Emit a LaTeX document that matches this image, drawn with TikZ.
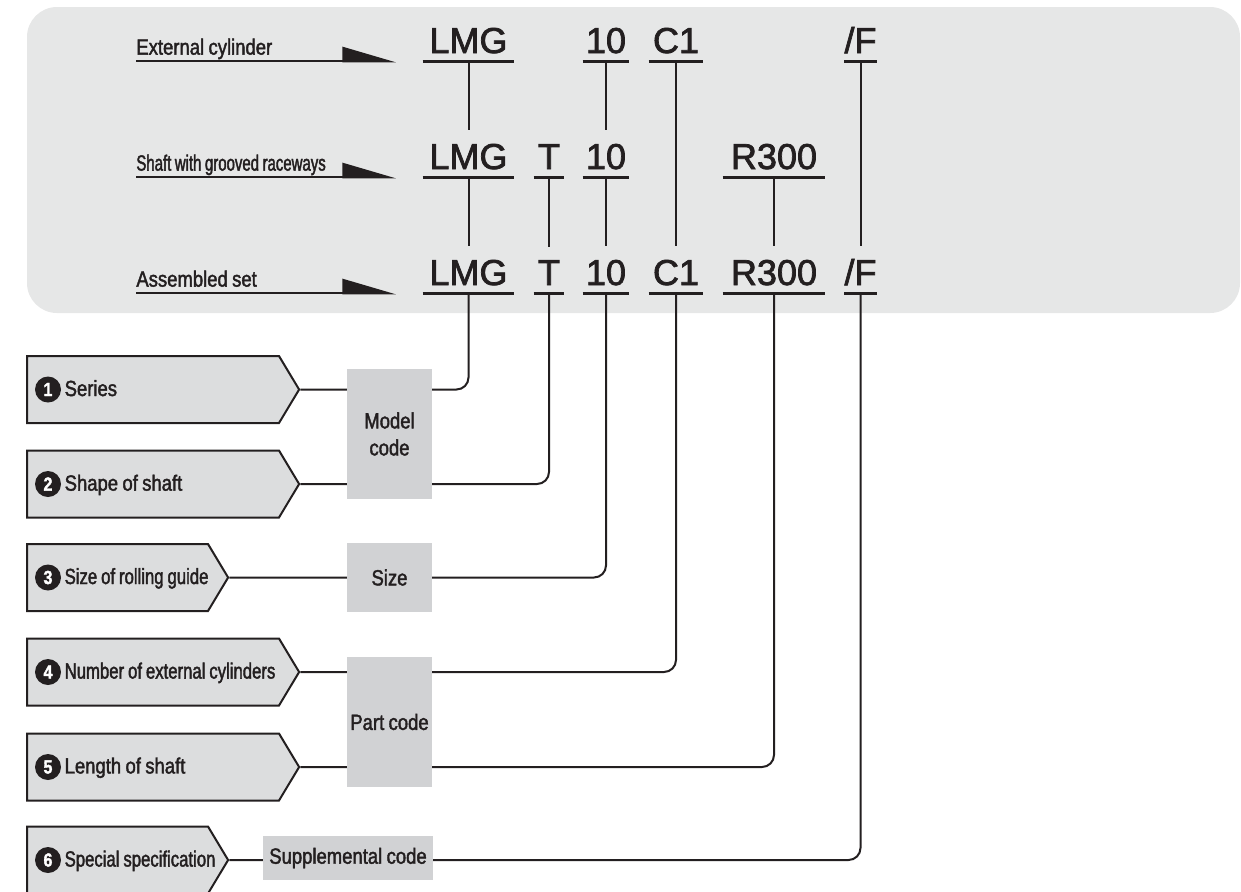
\documentclass[tikz,border=0pt]{standalone}
\usepackage{fontspec}
\setmainfont{Liberation Sans}
\newfontfamily\codefont[FakeBold=2]{Liberation Sans}
\newfontfamily\condfont[FakeStretch=0.84, FakeBold=1.8, WordSpace=0.85]{Liberation Sans}
\newfontfamily\xcondfont[FakeStretch=0.76, FakeBold=1.8, WordSpace=0.85]{Liberation Sans}
\newfontfamily\xxcondfont[FakeStretch=0.68, FakeBold=1.8, WordSpace=0.85]{Liberation Sans}
\definecolor{tkink}{HTML}{231F20}
\definecolor{tkpanel}{HTML}{E6E7E7}
\definecolor{tkitem}{HTML}{DCDDDE}
\definecolor{tkbox}{HTML}{D1D2D4}
\usetikzlibrary{arrows.meta, shapes.symbols}

% black disc with a white digit
\newcommand{\numdot}[1]{\tikz[baseline=(nd.base)]\node[circle, fill=tkink, text=white, inner sep=0pt, minimum size=13pt, font=\fontsize{9.5}{9.5}\selectfont\bfseries] (nd) {#1};}

\tikzset{
  tag/.style={font=\condfont\fontsize{11}{13}\selectfont, text=tkink, inner xsep=0pt, inner ysep=3pt, text depth=0pt, anchor=south west},
  pointer/.style={draw=tkink, line width=1.3pt, -{Triangle[left, length=24.5pt, width=14pt]}},
  code/.style={font=\codefont\fontsize{18}{20}\selectfont, text=tkink, anchor=base, inner xsep=0pt, inner ysep=4pt, text depth=0pt},
  uline/.style={draw=tkink, line width=1.35pt},
  conn/.style={draw=tkink, line width=1pt},
  item/.style={signal, signal to=east, signal from=nowhere, signal pointer angle=118, draw=tkink, fill=tkitem, line width=1pt, minimum height=33.5pt, inner xsep=4pt, align=flush left, anchor=west, text=tkink, font=\condfont\fontsize{11}{13}\selectfont},
  wideitem/.style={item, text width=118pt},
  shortitem/.style={item, text width=82.5pt},
  grp/.style={fill=tkbox, text=tkink, inner sep=0pt, align=center, font=\condfont\fontsize{11}{13.5}\selectfont}
}

\begin{document}
\begin{tikzpicture}[x=0.5pt, y=-0.5pt]
  \useasboundingbox (0,0) rectangle (1241,891);
  \fill[tkpanel, rounded corners=15pt] (27,7) rectangle (1240,313);

  % row labels
  \node[tag] (extlbl) at (136,61) {External cylinder};
  \node[tag, font=\xxcondfont\fontsize{11}{13}\selectfont] (shflbl) at (136,177) {Shaft with grooved raceways};
  \node[tag] (asmlbl) at (136,293) {Assembled set};
  \coordinate (extend) at (396,61);
  \coordinate (shfend) at (396,177);
  \coordinate (asmend) at (396,293);
  \draw[pointer] (extlbl.south west) -- (extend);
  \draw[pointer] (shflbl.south west) -- (shfend);
  \draw[pointer] (asmlbl.south west) -- (asmend);

  % model numbers
  \node[code, minimum width=45.5pt] (lmgA) at (468.5,53) {LMG};
  \node[code, minimum width=23pt] (tenA) at (606,53) {10};
  \node[code, minimum width=27pt] (cylA) at (676,53) {C1};
  \node[code, minimum width=14.5pt] (optA) at (860.5,53) {/F};

  \node[code, minimum width=45.5pt] (lmgB) at (468.5,169) {LMG};
  \node[code, minimum width=15pt] (shfB) at (549,169) {T};
  \node[code, minimum width=23pt] (tenB) at (606,169) {10};
  \node[code, minimum width=51pt] (lenB) at (774,169) {R300};

  \node[code, minimum width=45.5pt] (lmgC) at (468.5,285) {LMG};
  \node[code, minimum width=15pt] (shfC) at (549,285) {T};
  \node[code, minimum width=23pt] (tenC) at (606,285) {10};
  \node[code, minimum width=27pt] (cylC) at (676,285) {C1};
  \node[code, minimum width=51pt] (lenC) at (774,285) {R300};
  \node[code, minimum width=14.5pt] (optC) at (860.5,285) {/F};

  \foreach \n in {lmgA,tenA,cylA,optA,lmgB,shfB,tenB,lenB,lmgC,shfC,tenC,cylC,lenC,optC}
    \draw[uline] (\n.south west) -- (\n.south east);

  \draw[conn, shorten >=2.5pt] (lmgA.south) -- (lmgB.north);
  \draw[conn, shorten >=2.5pt] (lmgB.south) -- (lmgC.north);
  \draw[conn, shorten >=2.5pt] (tenA.south) -- (tenB.north);
  \draw[conn, shorten >=2.5pt] (tenB.south) -- (tenC.north);
  \draw[conn, shorten >=2.5pt] (shfB.south) -- (shfC.north);
  \draw[conn, shorten >=2.5pt] (lenB.south) -- (lenC.north);
  \draw[conn, shorten >=2.5pt] (cylA.south) -- (cylC.north);
  \draw[conn, shorten >=2.5pt] (optA.south) -- (optC.north);

  % items
  \node[wideitem] (ser) at (26,389.5) {\mbox{\numdot{1}\,Series}};
  \node[wideitem] (shp) at (26,484) {\mbox{\numdot{2}\,Shape of shaft}};
  \node[shortitem] (siz) at (26,577.5) {\mbox{\numdot{3}\,\xcondfont Size of rolling guide}};
  \node[wideitem] (num) at (26,672) {\mbox{\numdot{4}\,\xcondfont Number of external cylinders}};
  \node[wideitem] (len) at (26,767) {\mbox{\numdot{5}\,Length of shaft}};
  \node[shortitem] (spc) at (26,860) {\mbox{\numdot{6}\,\xcondfont Special specification}};

  \draw[conn, rounded corners=6pt] (ser.east) -| (lmgC.south);
  \draw[conn, rounded corners=6pt] (shp.east) -| (shfC.south);
  \draw[conn, rounded corners=6pt] (siz.east) -| (tenC.south);
  \draw[conn, rounded corners=6pt] (num.east) -| (cylC.south);
  \draw[conn, rounded corners=6pt] (len.east) -| (lenC.south);
  \draw[conn, rounded corners=6pt] (spc.east) -| (optC.south);

  % code groups
  \node[grp, minimum width=42.5pt, minimum height=65pt] (mdl) at (389.5,434) {Model\\code};
  \node[grp, minimum width=42.5pt, minimum height=34.5pt] (sz) at (389.5,577.5) {Size};
  \node[grp, minimum width=42.5pt, minimum height=65pt] (prt) at (389.5,722) {Part code};
  \node[grp, minimum width=85pt, minimum height=22pt] (sup) at (348,858) {Supplemental code};
\end{tikzpicture}
\end{document}
